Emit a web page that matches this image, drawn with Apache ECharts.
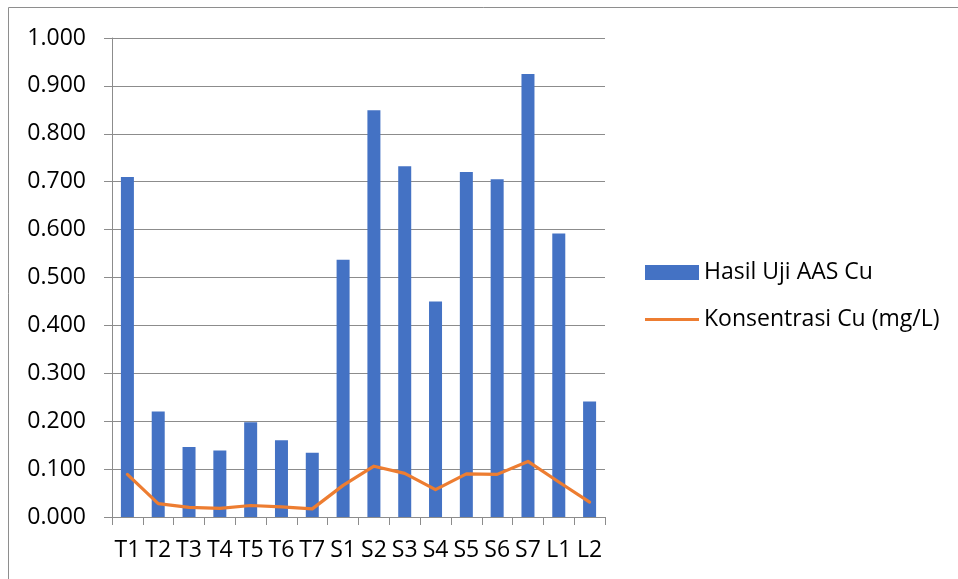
<!DOCTYPE html>
<html>
<head>
<meta charset="utf-8">
<script src="https://cdn.jsdelivr.net/npm/echarts@6/dist/echarts.min.js"></script>
<style>
  html, body { margin: 0; padding: 0; background: #ffffff; }
  #chart { width: 958px; height: 579px; }
</style>
</head>
<body>
<div id="chart"></div>
<script>
// Sample stations
const categories = ['T1','T2','T3','T4','T5','T6','T7','S1','S2','S3','S4','S5','S6','S7','L1','L2'];
// AAS absorbance readings for Cu
const hasilUjiAAS = [0.710, 0.220, 0.146, 0.139, 0.198, 0.160, 0.134, 0.537, 0.849, 0.732, 0.450, 0.720, 0.705, 0.925, 0.592, 0.241];
// Computed Cu concentration (mg/L)
const konsentrasiCu = [0.089, 0.028, 0.020, 0.018, 0.024, 0.021, 0.017, 0.066, 0.106, 0.091, 0.057, 0.090, 0.089, 0.116, 0.073, 0.031];
const seriesNames = ['Hasil Uji AAS Cu', 'Konsentrasi Cu (mg/L)'];

const FONT = '"Open Sans", "Liberation Sans", sans-serif';
const GRID_GRAY = '#8c8c8c';
const BAR_BLUE = '#4472C4';
const LINE_ORANGE = '#ED7D31';

const chart = echarts.init(document.getElementById('chart'), null, { renderer: 'canvas' });
chart.setOption({
  backgroundColor: '#ffffff',
  animation: false,
  textStyle: { fontFamily: FONT },
  graphic: [{
    type: 'rect',
    shape: { x: 8.5, y: 7.5, width: 1000, height: 1000 },
    style: { fill: 'none', stroke: '#8e8e8e', lineWidth: 1 },
    silent: true
  }],
  grid: { left: 112, right: 353, top: 38, bottom: 62, containLabel: false },
  legend: {
    orient: 'vertical',
    left: 640,
    top: 256,
    itemWidth: 54,
    itemHeight: 15,
    itemGap: 24,
    symbolKeepAspect: true,
    textStyle: { fontFamily: FONT, fontSize: 23, color: '#000000' },
    data: [
      { name: seriesNames[0], icon: 'rect' },
      // plain stroke-like icon for the line series (no marker)
      { name: seriesNames[1], icon: 'path://M0 0H54V3.2H0Z', itemStyle: { color: LINE_ORANGE } }
    ]
  },
  xAxis: {
    type: 'category',
    data: categories,
    boundaryGap: true,
    axisLine: { show: true, lineStyle: { color: GRID_GRAY, width: 1 } },
    axisTick: { show: true, length: 8, alignWithLabel: false, lineStyle: { color: GRID_GRAY } },
    axisLabel: { color: '#000000', fontSize: 23, fontFamily: FONT, margin: 22, interval: 0 },
    splitLine: { show: false }
  },
  yAxis: {
    type: 'value',
    min: 0,
    max: 1,
    interval: 0.1,
    axisLine: { show: true, lineStyle: { color: GRID_GRAY, width: 1 } },
    axisTick: { show: true, length: 8, lineStyle: { color: GRID_GRAY } },
    axisLabel: {
      color: '#000000', fontSize: 23, fontFamily: FONT, margin: 26,
      formatter: v => v.toFixed(3)
    },
    splitLine: { show: true, lineStyle: { color: GRID_GRAY, width: 1 } }
  },
  series: [
    {
      name: seriesNames[0],
      type: 'bar',
      data: hasilUjiAAS,
      barWidth: 13,
      itemStyle: { color: BAR_BLUE }
    },
    {
      name: seriesNames[1],
      type: 'line',
      data: konsentrasiCu,
      symbol: 'none',
      lineStyle: { color: LINE_ORANGE, width: 3.2, cap: 'round', join: 'round' },
      itemStyle: { color: LINE_ORANGE }
    }
  ]
});
</script>
</body>
</html>
